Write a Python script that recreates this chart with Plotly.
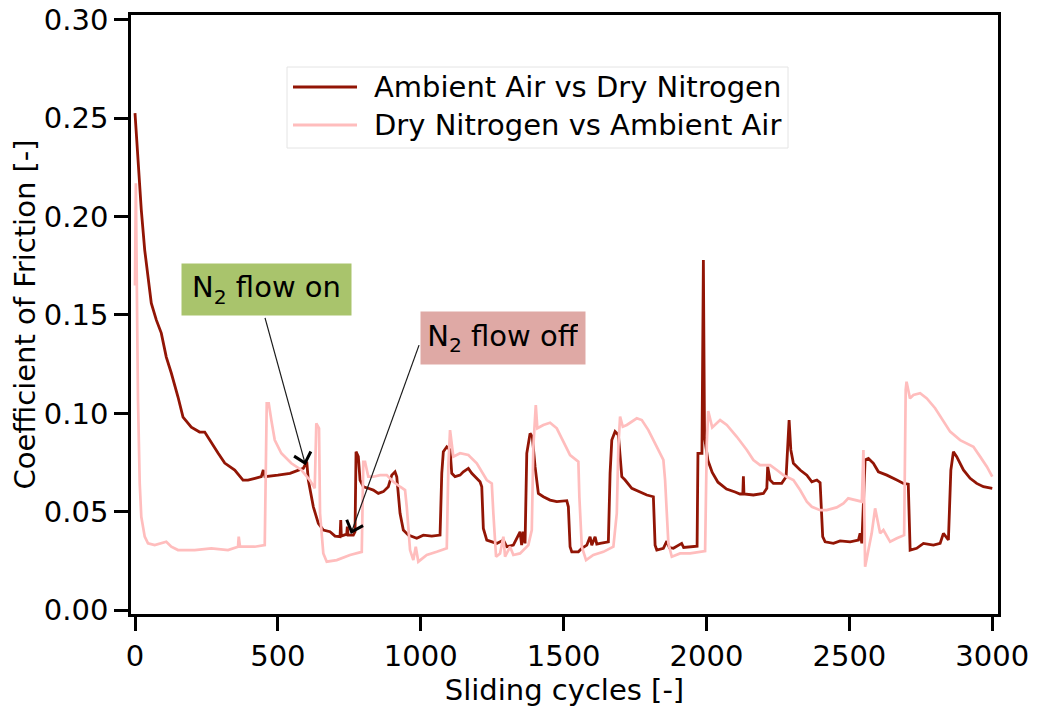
import math
import plotly.graph_objects as go

# ---- data ----
cycles_air = [0, 10.5, 22, 34, 45.5, 57, 74.5, 92, 109.5, 127, 150.5, 168, 197, 226, 244, 261, 290.5, 314, 349,
              378, 395.5, 420, 442, 449, 455, 500, 542.5, 589, 601, 606.5, 624, 641.5, 659, 682.5, 700, 717.5,
              720, 722, 741, 743, 745.5, 764, 770, 773.5, 781.5, 787.5, 799, 816.5, 834, 851.5, 869, 886.5,
              898.5, 910, 916, 927.5, 939, 956.5, 986, 1009, 1038.5, 1067.5, 1073.5, 1079, 1091, 1102.5, 1108.5,
              1120, 1137.5, 1149, 1166.5, 1178.5, 1207.5, 1213.5, 1219, 1231, 1266, 1289, 1301, 1324, 1347.5,
              1353, 1359, 1365, 1371, 1382.5, 1390.5, 1400, 1411.5, 1429, 1452.5, 1476, 1511, 1516.5, 1522.5,
              1528.5, 1551.5, 1563.5, 1581, 1592.5, 1598.5, 1610, 1616, 1627.5, 1656.5, 1662.5, 1668.5, 1680,
              1691.5, 1703.5, 1715, 1738.5, 1767.5, 1791, 1814, 1820, 1826, 1849, 1861, 1870, 1884, 1913, 1920,
              1954, 1967, 1970, 1984, 1989, 1993, 2005, 2020, 2040, 2070, 2100, 2117, 2127, 2129, 2131, 2164,
              2199, 2211, 2214, 2222.5, 2234, 2263, 2278.5, 2289, 2295, 2304, 2327.5, 2351, 2368.5, 2386, 2397.5,
              2406.5, 2415, 2444, 2467.5, 2502.5, 2531.5, 2537.5, 2543.5, 2555, 2566.5, 2584, 2601.5, 2631, 2666,
              2689, 2706, 2712.5, 2735.5, 2759, 2794, 2817.5, 2829, 2846.5, 2855, 2864, 2875.5, 2899, 2922.5,
              2945.5, 2969, 3000]
cof_air = [0.2526, 0.2288, 0.2034, 0.183, 0.1678, 0.156, 0.1475, 0.1408, 0.1286, 0.1205, 0.1083, 0.0981, 0.093,
           0.0905, 0.0905, 0.0864, 0.0798, 0.0747, 0.0712, 0.0661, 0.0661, 0.067, 0.0678, 0.0712, 0.0678, 0.0686,
           0.0695, 0.072, 0.0754, 0.0661, 0.0525, 0.0441, 0.0407, 0.0398, 0.0376, 0.0373, 0.0458, 0.0376, 0.0386,
           0.0424, 0.0381, 0.0381, 0.0398, 0.0805, 0.078, 0.0661, 0.0627, 0.0619, 0.061, 0.0593, 0.0602, 0.0627,
           0.0686, 0.0703, 0.0678, 0.0492, 0.0407, 0.0381, 0.0365, 0.0381, 0.0376, 0.0381, 0.0695, 0.0805, 0.083,
           0.0814, 0.0695, 0.0678, 0.0686, 0.0703, 0.072, 0.0695, 0.0652, 0.0627, 0.0415, 0.0356, 0.0339, 0.0356,
           0.0322, 0.033, 0.0398, 0.033, 0.0398, 0.0339, 0.0797, 0.0898, 0.0881, 0.0729, 0.0593, 0.0576, 0.0559,
           0.0551, 0.0556, 0.0525, 0.0322, 0.0296, 0.0296, 0.0314, 0.033, 0.0373, 0.033, 0.0373, 0.0335, 0.0339,
           0.0347, 0.0695, 0.0864, 0.0907, 0.089, 0.0678, 0.0661, 0.0619, 0.0602, 0.0585, 0.0576, 0.033, 0.0305,
           0.0314, 0.035, 0.0318, 0.0314, 0.0339, 0.0318, 0.0322, 0.0325, 0.0797, 0.0797, 0.178, 0.088, 0.076,
           0.070, 0.065, 0.0615, 0.060, 0.059, 0.059, 0.068, 0.059, 0.0585, 0.0593, 0.0619, 0.0729, 0.0661, 0.0644,
           0.0644, 0.0678, 0.0966, 0.0814, 0.0746, 0.0712, 0.0686, 0.0652, 0.0661, 0.0647, 0.0373, 0.0347, 0.0339,
           0.0352, 0.0347, 0.0356, 0.039, 0.0339, 0.0763, 0.0771, 0.0746, 0.0703, 0.0686, 0.0661, 0.0644, 0.064,
           0.0305, 0.0314, 0.0339, 0.033, 0.0339, 0.039, 0.0356, 0.0712, 0.0805, 0.078, 0.0712, 0.067, 0.0644,
           0.0627, 0.0619]

cycles_n2 = [0, 3, 8, 10.5, 16.5, 22, 34, 45.5, 69, 92, 109.5, 127, 150.5, 209, 267, 325.5, 360.5, 363, 367.5,
             419, 454, 461, 468, 477, 489, 512, 547, 582, 611.5, 629, 634.5, 644, 647.5, 659, 671, 706, 752.5,
             793.5, 799, 805, 816.5, 834, 857.5, 881, 904, 927.5, 945, 951, 962.5, 974, 982.5, 991.5, 1021, 1056,
             1091, 1096.5, 1102.5, 1114, 1137.5, 1166.5, 1196, 1231, 1248.5, 1254, 1263.5, 1277.5, 1289, 1295,
             1312.5, 1324, 1347.5, 1376.5, 1388.5, 1394, 1402.5, 1408, 1429, 1452.5, 1476, 1499, 1522.5, 1551.5,
             1555, 1563.5, 1578.5, 1604, 1639, 1674, 1686, 1691.5, 1697.5, 1707, 1721, 1756, 1773.5, 1796.5, 1826,
             1849, 1855, 1866.5, 1878.5, 1907.5, 1942.5, 1995, 2001, 2006, 2020, 2047.5, 2071, 2106, 2141, 2164,
             2187.5, 2222.5, 2246, 2269, 2304, 2327.5, 2351, 2368.5, 2397.5, 2420.5, 2455.5, 2479, 2496, 2519.5,
             2543.5, 2549, 2552, 2555, 2566.5, 2578, 2590, 2598, 2607.5, 2619, 2631, 2642.5, 2666, 2691.5, 2697,
             2700, 2712, 2724, 2747.5, 2771, 2800, 2829, 2852.5, 2887.5, 2934, 2957.5, 2981, 3000]
cof_n2 = [0.165, 0.217, 0.1407, 0.1068, 0.0644, 0.0474, 0.0373, 0.0339, 0.033, 0.0339, 0.0347, 0.0322, 0.0305,
          0.0305, 0.0314, 0.0305, 0.0322, 0.0373, 0.0322, 0.0322, 0.033, 0.1051, 0.1051, 0.0966, 0.0864, 0.0797,
          0.0746, 0.0712, 0.0661, 0.0619, 0.0949, 0.0924, 0.0492, 0.0288, 0.0246, 0.0254, 0.028, 0.0296, 0.0754,
          0.0754, 0.0678, 0.0678, 0.0686, 0.0686, 0.0652, 0.0627, 0.061, 0.0525, 0.0305, 0.0254, 0.0322, 0.0246,
          0.028, 0.0296, 0.0314, 0.0729, 0.0915, 0.078, 0.0797, 0.0788, 0.0746, 0.0661, 0.0644, 0.0492, 0.0271,
          0.0288, 0.0373, 0.0271, 0.0322, 0.028, 0.0288, 0.033, 0.0407, 0.083, 0.1042, 0.0924, 0.0941, 0.0952,
          0.0924, 0.0856, 0.0788, 0.0754, 0.0576, 0.0322, 0.0254, 0.028, 0.0296, 0.0322, 0.0492, 0.083, 0.0983,
          0.0932, 0.0941, 0.0975, 0.0966, 0.0915, 0.083, 0.0763, 0.0661, 0.0339, 0.0271, 0.0288, 0.0288, 0.030,
          0.085, 0.1012, 0.0928, 0.0966, 0.0941, 0.0881, 0.0814, 0.0763, 0.0737, 0.0737, 0.0712, 0.0686, 0.0661,
          0.061, 0.0551, 0.0525, 0.0508, 0.0508, 0.0522, 0.0542, 0.0568, 0.0559, 0.0551, 0.0814, 0.050, 0.022,
          0.0305, 0.039, 0.0517, 0.0458, 0.039, 0.0407, 0.0373, 0.0347, 0.0365, 0.0381, 0.1119, 0.1161, 0.1076,
          0.1093, 0.1102, 0.1076, 0.1026, 0.0957, 0.0907, 0.0864, 0.083, 0.078, 0.0729, 0.0678]

x_ticks = [0, 500, 1000, 1500, 2000, 2500, 3000]
y_ticks = [0.00, 0.05, 0.10, 0.15, 0.20, 0.25, 0.30]

series_names = ["Ambient Air vs Dry Nitrogen", "Dry Nitrogen vs Ambient Air"]
x_title = "Sliding cycles [-]"
y_title = "Coefficient of Friction [-]"
label_on = "N<sub>2</sub> flow on"
label_off = "N<sub>2</sub> flow off"

# ---- styling / layout ----
FONT = "DejaVu Sans"
FS = 29
DARK = "#921505"
PINK = "#ffbdbd"
W, H = 1037, 713
ML, MR, MT, MB = 131, 39, 15, 99
XR = [-14, 3020]
YR = [-0.002, 0.3025]
PW, PH = W - ML - MR, H - MT - MB


def px_x(v):
    return ML + (v - XR[0]) / (XR[1] - XR[0]) * PW


def px_y(v):
    return MT + (YR[1] - v) / (YR[1] - YR[0]) * PH


# legend geometry given in pixels -> paper fraction
def paper_x(p):
    return (p - ML) / PW


def paper_y(p):
    return (MT + PH - p) / PH


fig = go.Figure()
fig.add_trace(go.Scatter(x=cycles_air, y=cof_air, mode="lines", name=series_names[0],
                         line=dict(color=DARK, width=2.8), showlegend=False))
fig.add_trace(go.Scatter(x=cycles_n2, y=cof_n2, mode="lines", name=series_names[1],
                         line=dict(color=PINK, width=2.7), showlegend=False))

axis_common = dict(
    showline=True, linewidth=2.5, linecolor="black", mirror=True,
    ticks="outside", ticklen=14, tickwidth=2.5, tickcolor="black",
    showgrid=False, zeroline=False, automargin=False,
    tickfont=dict(family=FONT, size=FS, color="black"),
)

fig.update_layout(
    width=W, height=H,
    margin=dict(l=ML, r=MR, t=MT, b=MB),
    paper_bgcolor="white", plot_bgcolor="white",
    font=dict(family=FONT, size=FS, color="black"),
    xaxis=dict(range=XR, tickvals=x_ticks,
               title=dict(text=x_title, font=dict(family=FONT, size=FS), standoff=6),
               **axis_common),
    yaxis=dict(range=YR, tickvals=y_ticks, tickformat=".2f",
               title=dict(text=y_title, font=dict(family=FONT, size=FS), standoff=0),
               **axis_common),
    showlegend=False,
)

# ---- custom legend (box, line samples, labels) ----
LEG_L, LEG_R, LEG_T, LEG_B = 287, 788, 67, 148
ROWS = [87, 125]
fig.add_shape(type="rect", xref="paper", yref="paper",
              x0=paper_x(LEG_L), x1=paper_x(LEG_R), y0=paper_y(LEG_B), y1=paper_y(LEG_T),
              fillcolor="white", line=dict(color="#e4e4e4", width=1), layer="above")
for name, col, row in zip(series_names, [DARK, PINK], ROWS):
    fig.add_shape(type="line", xref="paper", yref="paper",
                  x0=paper_x(293), x1=paper_x(357), y0=paper_y(row), y1=paper_y(row),
                  line=dict(color=col, width=3), layer="above")
    fig.add_annotation(xref="paper", yref="paper", x=paper_x(372), y=paper_y(row),
                       xanchor="left", yanchor="middle", text=name, showarrow=False,
                       font=dict(family=FONT, size=FS, color="black"))

# ---- label boxes ----
fig.add_annotation(x=460, y=0.163, xref="x", yref="y", text=label_on,
                   showarrow=False, bgcolor="#a9c46c", font=dict(family=FONT, size=FS, color="black"),
                   width=155, height=37, borderpad=7)
fig.add_annotation(x=1288, y=0.1383, xref="x", yref="y", text=label_off,
                   showarrow=False, bgcolor="#dfa9a5", font=dict(family=FONT, size=FS, color="black"),
                   width=150, height=38, borderpad=7)

# ---- arrows: shaft line + open V head ----
arrows = [((455, 0.1485), (595, 0.0747)),
          ((994, 0.1347), (758, 0.0398))]
for (tx, ty), (hx, hy) in arrows:
    fig.add_shape(type="line", xref="x", yref="y", x0=tx, y0=ty, x1=hx, y1=hy,
                  line=dict(color="#1a1a1a", width=1.2), layer="above")
    dx = px_x(hx) - px_x(tx)
    dy = -(px_y(hy) - px_y(ty))  # pixel-mode y points up
    n = math.hypot(dx, dy)
    ux, uy = -dx / n, -dy / n
    L = 13
    pts = []
    for ang in (math.radians(42), math.radians(-42)):
        c, s = math.cos(ang), math.sin(ang)
        pts.append((L * (ux * c - uy * s), L * (ux * s + uy * c)))
    path = f"M{pts[0][0]:.2f},{pts[0][1]:.2f} L0,0 L{pts[1][0]:.2f},{pts[1][1]:.2f}"
    fig.add_shape(type="path", xref="x", yref="y", xsizemode="pixel", ysizemode="pixel",
                  xanchor=hx, yanchor=hy, path=path,
                  line=dict(color="black", width=3), layer="above")

# remove the browser's default 8px page margin so the figure sits at the page origin
fig.write_html("out.html", config={"displayModeBar": False},
               post_script="document.body.style.margin='0px';")
